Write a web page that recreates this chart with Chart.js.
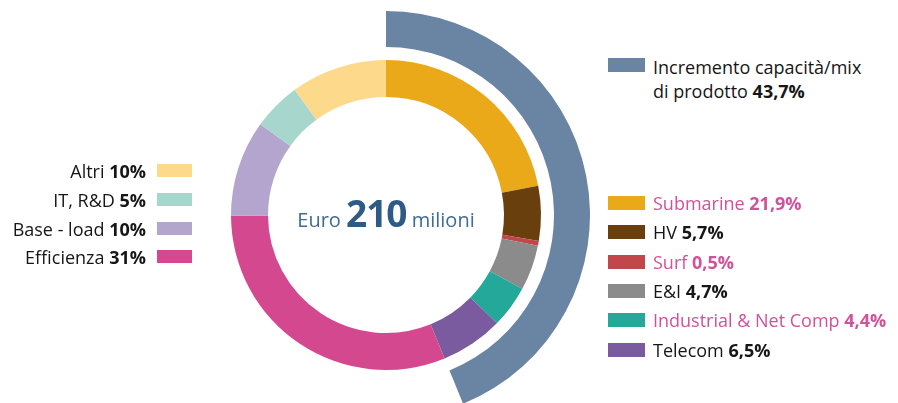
<!DOCTYPE html>
<html>
<head>
<meta charset="utf-8">
<script src="https://cdn.jsdelivr.net/npm/chart.js@4/dist/chart.umd.min.js"></script>
<style>
  html, body { margin: 0; padding: 0; background: #fff; overflow: hidden; width: 898px; height: 403px; }
  body { position: relative; font-family: "Open Sans", sans-serif; color: #161616; }
  #wrap { position: absolute; left: 182px; top: 11px; width: 408px; height: 408px; }
  .lg { position: absolute; font-size: 18px; line-height: 22px; white-space: nowrap; }
  .lg b { font-weight: 700; }
  .sw { position: absolute; }
  .pink { color: #d1529a; }
  #center { position: absolute; left: 186px; width: 400px; top: 193px; text-align: center; white-space: nowrap; color: #3f6c93; line-height: 40px; }
  #center .s { font-size: 20px; }
  #center .b { font-size: 37px; font-weight: 700; color: #2d5b86; letter-spacing: -1px; }
</style>
</head>
<body>
<div id="wrap"><canvas id="c"></canvas></div>
<div id="center"><span class="s">Euro </span><span class="b">210</span><span class="s"> milioni</span></div>
<div id="legend"></div>
<script>
// ---- data ----
const innerLabels = ['Submarine', 'HV', 'Surf', 'E&I', 'Industrial & Net Comp', 'Telecom', 'Efficienza', 'Base - load', 'IT, R&D', 'Altri'];
const innerValues = [21.9, 5.7, 0.5, 4.7, 4.4, 6.5, 31, 10, 5, 10];
const innerColors = ['#e9a919', '#6a3f0e', '#c2474b', '#8b8b8b', '#24a899', '#7a5b9f', '#d4488f', '#b3a5ce', '#a7d7cc', '#fdd98c'];
const outerLabel = 'Incremento capacità/mix di prodotto';
const outerValue = 43.7;
const outerColor = '#6a84a3';
const valueText = ['21,9%', '5,7%', '0,5%', '4,7%', '4,4%', '6,5%', '31%', '10%', '5%', '10%'];
const outerText = '43,7%';
const pinkLabels = ['Submarine', 'Surf', 'Industrial & Net Comp'];

const innerTotal = innerValues.reduce((a, b) => a + b, 0);

new Chart(document.getElementById('c'), {
  type: 'doughnut',
  data: {
    labels: innerLabels,
    datasets: [
      { label: outerLabel, data: [outerValue, innerTotal - outerValue], backgroundColor: [outerColor, 'rgba(0,0,0,0)'], borderWidth: 0, weight: 36 },
      { label: 'gap', data: [innerTotal], backgroundColor: ['rgba(0,0,0,0)'], borderWidth: 0, weight: 13 },
      { label: 'Investimenti', data: innerValues, backgroundColor: innerColors, borderWidth: 0, weight: 37 }
    ]
  },
  options: {
    responsive: true,
    maintainAspectRatio: false,
    animation: false,
    cutout: 118,
    layout: { padding: 0 },
    plugins: { legend: { display: false }, tooltip: { enabled: false } }
  }
});

// ---- HTML legends ----
const legend = document.getElementById('legend');
function addItem(label, val, color, cy, side, pink) {
  const sw = document.createElement('div');
  sw.className = 'sw';
  sw.style.background = color;
  const t = document.createElement('div');
  t.className = 'lg' + (pink ? ' pink' : '');
  t.appendChild(document.createTextNode(label + ' '));
  const b = document.createElement('b'); b.textContent = val; t.appendChild(b);
  if (side === 'left') {
    sw.style.left = '157px'; sw.style.width = '35px'; sw.style.top = (cy - 7) + 'px'; sw.style.height = '13px';
    t.style.right = (898 - 146) + 'px'; t.style.top = (cy - 11) + 'px'; t.style.textAlign = 'right';
  } else {
    sw.style.left = '608px'; sw.style.width = '37px'; sw.style.top = (cy - 7) + 'px'; sw.style.height = '14px';
    t.style.left = '653px'; t.style.top = (cy - 11) + 'px';
  }
  legend.appendChild(sw); legend.appendChild(t);
}
// left side: Altri, IT R&D, Base-load, Efficienza
const leftIdx = [9, 8, 7, 6];
const leftY = [171, 200, 229, 257];
leftIdx.forEach((i, k) => addItem(innerLabels[i], valueText[i], innerColors[i], leftY[k], 'left', false));
// right side: Submarine..Telecom
const rightY = [203, 232, 262, 291, 320, 350];
[0, 1, 2, 3, 4, 5].forEach((i, k) => addItem(innerLabels[i], valueText[i], innerColors[i], rightY[k], 'right', pinkLabels.includes(innerLabels[i])));
// outer legend (two lines)
(function () {
  const sw = document.createElement('div');
  sw.className = 'sw'; sw.style.background = outerColor;
  sw.style.left = '608px'; sw.style.width = '37px'; sw.style.top = '58px'; sw.style.height = '14px';
  const t = document.createElement('div');
  t.className = 'lg'; t.style.left = '653px'; t.style.top = '55px'; t.style.lineHeight = '24px';
  const parts = outerLabel.split(' di ');
  t.appendChild(document.createTextNode(parts[0]));
  t.appendChild(document.createElement('br'));
  t.appendChild(document.createTextNode('di ' + parts[1] + ' '));
  const b = document.createElement('b'); b.textContent = outerText; t.appendChild(b);
  legend.appendChild(sw); legend.appendChild(t);
})();
</script>
</body>
</html>
